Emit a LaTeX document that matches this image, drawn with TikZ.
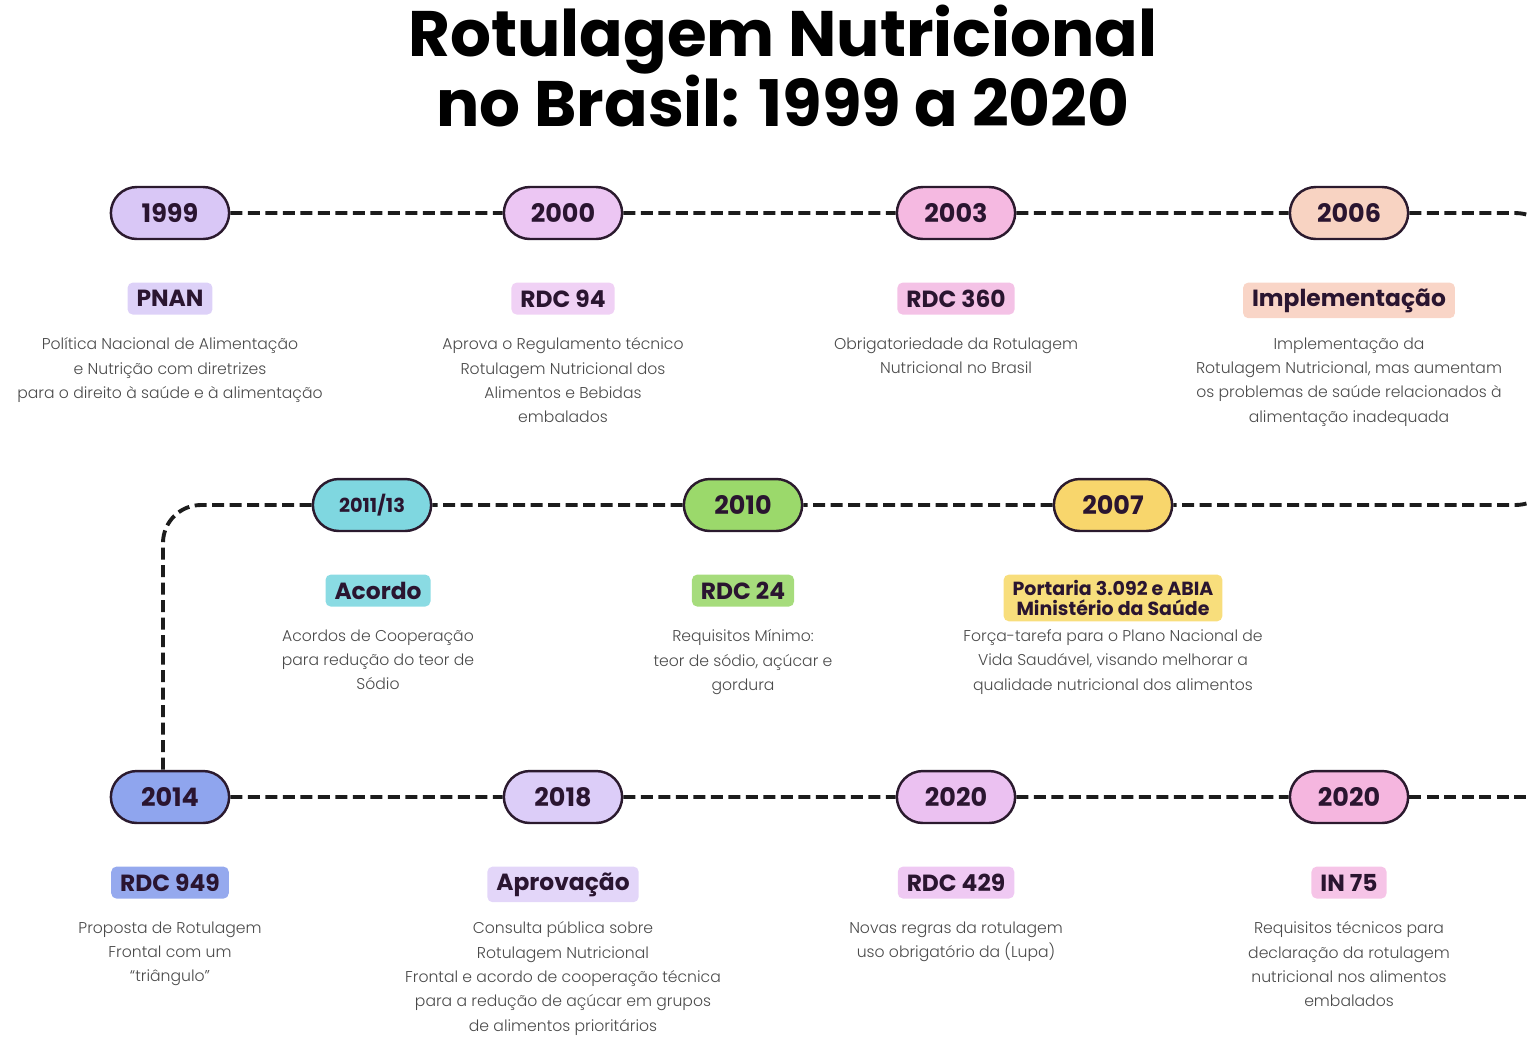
\documentclass[tikz,border=0pt]{standalone}
\usepackage{fontspec}
\setmainfont{Poppins}
\newfontfamily\descfont{Poppins}[UprightFont=* Light]
\usetikzlibrary{positioning,shapes.misc}

\definecolor{inkdark}{HTML}{2A1530}
\definecolor{descgray}{HTML}{4A4A4A}
\definecolor{pilledge}{HTML}{2B1A2E}
\definecolor{dashink}{HTML}{1C1C1C}
% pill colours
\definecolor{fill1999}{HTML}{D9C7F6}
\definecolor{fill2000}{HTML}{ECC6F3}
\definecolor{fill2003}{HTML}{F5B9E1}
\definecolor{fill2006}{HTML}{F8D3C2}
\definecolor{fill2011}{HTML}{7FD7E0}
\definecolor{fill2010}{HTML}{9BD96B}
\definecolor{fill2007}{HTML}{F8D66C}
\definecolor{fill2014}{HTML}{8FA5EE}
\definecolor{fill2018}{HTML}{DCCDF8}
\definecolor{fill2020a}{HTML}{EBC1F1}
\definecolor{fill2020b}{HTML}{F5B6DF}
% tag colours
\definecolor{tag1999}{HTML}{DDD1F8}
\definecolor{tag2000}{HTML}{F0D1F5}
\definecolor{tag2003}{HTML}{F4C2E6}
\definecolor{tag2006}{HTML}{F9D5C7}
\definecolor{tag2011}{HTML}{8ADBE3}
\definecolor{tag2010}{HTML}{A6DC7C}
\definecolor{tag2007}{HTML}{F8DE7C}
\definecolor{tag2014}{HTML}{95A9EE}
\definecolor{tag2018}{HTML}{E3D6F9}
\definecolor{tag2020a}{HTML}{EFC9F3}
\definecolor{tag2020b}{HTML}{F6C4E7}

\tikzset{
    yearpill/.style={rounded rectangle, draw=pilledge, line width=1.4pt,
        minimum width=2.6cm, minimum height=1.04cm, text=inkdark,
        font=\bfseries\fontsize{14.5}{16}\selectfont},
    tagbox/.style={rounded corners=3pt, minimum height=0.64cm, inner xsep=0.18cm,
        text=inkdark, align=center, font=\bfseries\fontsize{13.3}{15}\selectfont},
    desc/.style={align=center, inner sep=0pt, text=descgray,
        font=\descfont\fontsize{8.9}{13.9}\selectfont},
    timeline/.style={draw=dashink, line width=2.2pt, dash pattern=on 0.24cm off 0.11cm},
}

\begin{document}
\begin{tikzpicture}[x=0.02cm, y=-0.02cm]
        \useasboundingbox (0,0) rectangle (1530,1036);
        \clip (0,0) rectangle (1530,1036);

        \node[align=center, text=black, font=\bfseries\fontsize{36.6}{35.2}\selectfont] (title) at (783,66)
            {Rotulagem Nutricional\\no Brasil: 1999 a 2020};

        % first row
        \node[yearpill, fill=fill1999] (y1999) at (170,213) {1999};
        \node[yearpill, fill=fill2000] (y2000) at (563,213) {2000};
        \node[yearpill, fill=fill2003] (y2003) at (956,213) {2003};
        \node[yearpill, fill=fill2006] (y2006) at (1349,213) {2006};
        \node[tagbox, fill=tag1999, below=0.84cm of y1999] (l1999) {PNAN};
        \node[tagbox, fill=tag2000, below=0.84cm of y2000] (l2000) {RDC 94};
        \node[tagbox, fill=tag2003, below=0.84cm of y2003] (l2003) {RDC 360};
        \node[tagbox, fill=tag2006, below=0.84cm of y2006] (l2006) {Implementação};
        \node[desc, below=1.94cm of y1999] (d1999) {Política Nacional de Alimentação\\e Nutrição com diretrizes\\para o direito à saúde e à alimentação};
        \node[desc, below=1.94cm of y2000] (d2000) {Aprova o Regulamento técnico\\Rotulagem Nutricional dos\\Alimentos e Bebidas\\embalados};
        \node[desc, below=1.94cm of y2003] (d2003) {Obrigatoriedade da Rotulagem\\Nutricional no Brasil};
        \node[desc, below=1.94cm of y2006] (d2006) {Implementação da\\Rotulagem Nutricional, mas aumentam\\os problemas de saúde relacionados à\\alimentação inadequada};

        % second row
        \node[yearpill, fill=fill2011, font=\bfseries\fontsize{11}{13}\selectfont] (y2011) at (372,505) {2011/13};
        \node[yearpill, fill=fill2010] (y2010) at (743,505) {2010};
        \node[yearpill, fill=fill2007] (y2007) at (1113,505) {2007};
        \node[tagbox, fill=tag2011, below=0.84cm of y2011, xshift=0.12cm] (l2011) {Acordo};
        \node[tagbox, fill=tag2010, below=0.84cm of y2010] (l2010) {RDC 24};
        \node[tagbox, fill=tag2007, below=0.84cm of y2007, font=\bfseries\fontsize{10.8}{11.2}\selectfont] (l2007) {Portaria 3.092 e ABIA\\Ministério da Saúde};
        \node[desc, below=1.94cm of y2011, xshift=0.12cm] (d2011) {Acordos de Cooperação\\para redução do teor de\\Sódio};
        \node[desc, below=1.94cm of y2010] (d2010) {Requisitos Mínimo:\\teor de sódio, açúcar e\\gordura};
        \node[desc, below=1.94cm of y2007] (d2007) {Força-tarefa para o Plano Nacional de\\Vida Saudável, visando melhorar a\\qualidade nutricional dos alimentos};

        % third row
        \node[yearpill, fill=fill2014] (y2014) at (170,797) {2014};
        \node[yearpill, fill=fill2018] (y2018) at (563,797) {2018};
        \node[yearpill, fill=fill2020a] (y2020a) at (956,797) {2020};
        \node[yearpill, fill=fill2020b] (y2020b) at (1349,797) {2020};
        \node[tagbox, fill=tag2014, below=0.84cm of y2014] (l2014) {RDC 949};
        \node[tagbox, fill=tag2018, below=0.84cm of y2018] (l2018) {Aprovação};
        \node[tagbox, fill=tag2020a, below=0.84cm of y2020a] (l2020a) {RDC 429};
        \node[tagbox, fill=tag2020b, below=0.84cm of y2020b] (l2020b) {IN 75};
        \node[desc, below=1.94cm of y2014] (d2014) {Proposta de Rotulagem\\Frontal com um\\“triângulo”};
        \node[desc, below=1.94cm of y2018] (d2018) {Consulta pública sobre\\Rotulagem Nutricional\\Frontal e acordo de cooperação técnica\\para a redução de açúcar em grupos\\de alimentos prioritários};
        \node[desc, below=1.94cm of y2020a] (d2020a) {Novas regras da rotulagem\\uso obrigatório da (Lupa)};
        \node[desc, below=1.94cm of y2020b] (d2020b) {Requisitos técnicos para\\declaração da rotulagem\\nutricional nos alimentos\\embalados};

        % dashed connectors
        \coordinate (bendR1) at (1560,213);
        \coordinate (bendR2) at (1560,505);
        \coordinate (bendL) at (163,505);
        \coordinate (exit3) at (1545,797);
        \draw[timeline] (y1999) -- (y2000);
        \draw[timeline] (y2000) -- (y2003);
        \draw[timeline] (y2003) -- (y2006);
        \draw[timeline, rounded corners=0.9cm] (y2006.east) -- (bendR1) -- (bendR2) -- (y2007.east);
        \draw[timeline] (y2007) -- (y2010);
        \draw[timeline] (y2010) -- (y2011);
        \draw[timeline, rounded corners=0.76cm] (y2011.west) -- (bendL) -- (bendL |- y2014.north);
        \draw[timeline] (y2014) -- (y2018);
        \draw[timeline] (y2018) -- (y2020a);
        \draw[timeline] (y2020a) -- (y2020b);
        \draw[timeline] (y2020b.east) -- (exit3);
\end{tikzpicture}
\end{document}
